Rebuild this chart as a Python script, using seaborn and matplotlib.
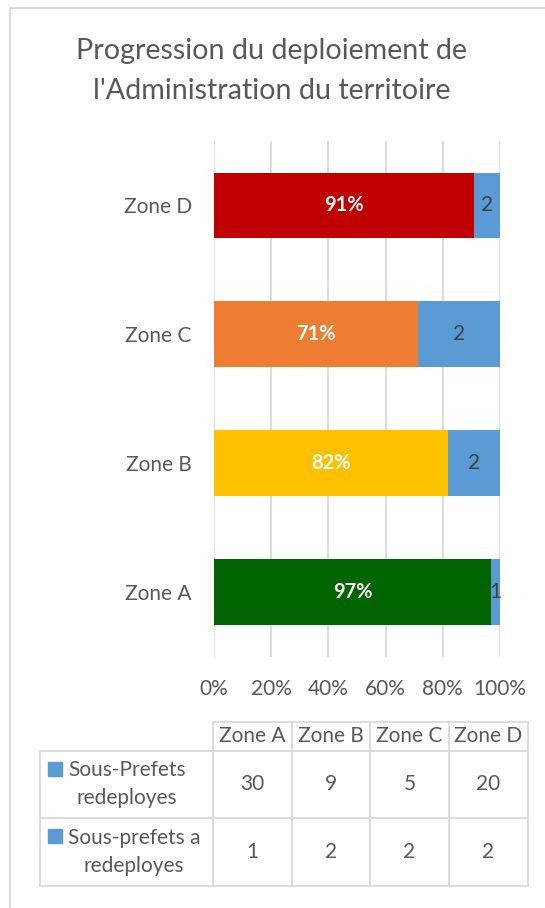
import matplotlib
matplotlib.use("Agg")
import matplotlib.pyplot as plt
import matplotlib.patches as mpatches
from matplotlib.lines import Line2D
import pandas as pd
import seaborn as sns

# Data
zones = ["Zone A", "Zone B", "Zone C", "Zone D"]
redeployes = [30, 9, 5, 20]          # Sous-Prefets redeployes
a_redeployer = [1, 2, 2, 2]          # Sous-prefets a redeployes
zone_colors = ["#006400", "#FFC000", "#ED7D31", "#C00000"]
series_names = ["Sous-Prefets\nredeployes", "Sous-prefets a\nredeployes"]
x_ticks = [0, 20, 40, 60, 80, 100]

BLUE = "#5B9BD5"
TEXT = "#595959"
GRID = "#D9D9D9"
W, H = 545, 908
FS = 15

sns.set_theme(style="white")
plt.rcParams["font.family"] = ["Lato", "DejaVu Sans"]

df = pd.DataFrame({"zone": zones, "done": redeployes, "todo": a_redeployer})
df["total"] = df["done"] + df["todo"]
df["pct_done"] = df["done"] / df["total"] * 100
df["pct_all"] = 100.0
order = zones[::-1]
palette = dict(zip(zones, zone_colors))

fig = plt.figure(figsize=(W / 100, H / 100), dpi=100)
fig.patch.set_facecolor("white")


def px(x, y):
    return x / W, 1 - y / H


ax = fig.add_axes([214 / W, 1 - 656.5 / H, (500 - 214) / W, (656.5 - 141) / H])

sns.barplot(data=df, y="zone", x="pct_all", order=order, color=BLUE,
            width=0.51, ax=ax, saturation=1, linewidth=0)
sns.barplot(data=df, y="zone", x="pct_done", order=order, hue="zone",
            palette=palette, width=0.51, ax=ax, saturation=1, legend=False, linewidth=0)

ax.set_xlim(0, 100)
ax.set_xticks(x_ticks)
ax.set_xticklabels([f"{t}%" for t in x_ticks])
ax.set_xlabel("")
ax.set_ylabel("")
ax.grid(axis="x", color=GRID, linewidth=1.3)
ax.set_axisbelow(True)
for s in ax.spines.values():
    s.set_visible(False)
ax.tick_params(axis="x", length=0, pad=16, labelsize=FS, colors=TEXT)
ax.tick_params(axis="y", length=0, pad=16, labelsize=FS, colors=TEXT)

# data labels
for i, z in enumerate(order):
    row = df[df["zone"] == z].iloc[0]
    ax.text(row["pct_done"] / 2, i, f"{row['pct_done']:.0f}%", ha="center", va="center",
            color="white", fontsize=14.5, fontweight="bold")
    ax.text((row["pct_done"] + 100) / 2, i, f"{row['todo']}", ha="center", va="center",
            color="#404040", fontsize=FS)

# title
fig.text(*px(272, 51), "Progression du deploiement de", ha="center", va="center",
         fontsize=20.6, color=TEXT)
fig.text(*px(272, 91), "l'Administration du territoire", ha="center", va="center",
         fontsize=20.6, color=TEXT)

# outer border
fig.add_artist(Line2D([10 / W, 10 / W], [0, 1 - 8 / H], color=GRID, lw=1.3, transform=fig.transFigure))
fig.add_artist(Line2D([10 / W, 1], [1 - 8 / H, 1 - 8 / H], color=GRID, lw=1.3, transform=fig.transFigure))

# data table
cols = [213, 292, 370, 449, 528]
rows = [722, 751, 818, 886]


def hline(x0, x1, y):
    fig.add_artist(Line2D([x0 / W, x1 / W], [1 - y / H] * 2, color=GRID, lw=1.3,
                          transform=fig.transFigure))


def vline(x, y0, y1):
    fig.add_artist(Line2D([x / W] * 2, [1 - y0 / H, 1 - y1 / H], color=GRID, lw=1.3,
                          transform=fig.transFigure))


hline(cols[0], cols[-1], rows[0])
for y in rows[1:]:
    hline(40, cols[-1], y)
vline(40, rows[1], rows[-1])
for x in cols:
    vline(x, rows[0], rows[-1])

for j, z in enumerate(zones):
    cx = (cols[j] + cols[j + 1]) / 2
    fig.text(*px(cx, (rows[0] + rows[1]) / 2), z, ha="center", va="center", fontsize=FS, color=TEXT)

for r, (name, vals) in enumerate(zip(series_names, [redeployes, a_redeployer])):
    y0, y1 = rows[r + 1], rows[r + 2]
    cy = (y0 + y1) / 2
    fig.add_artist(mpatches.Rectangle(px(48, y0 + 25), 14 / W, 14 / H, color=BLUE,
                                      transform=fig.transFigure))
    fig.text(*px(68, cy), name, ha="left", va="center", multialignment="center",
             fontsize=FS, color=TEXT, linespacing=1.5)
    for j, v in enumerate(vals):
        cx = (cols[j] + cols[j + 1]) / 2
        fig.text(*px(cx, cy), str(v), ha="center", va="center", fontsize=FS, color=TEXT)

fig.savefig("out.png", dpi=100, facecolor="white")
